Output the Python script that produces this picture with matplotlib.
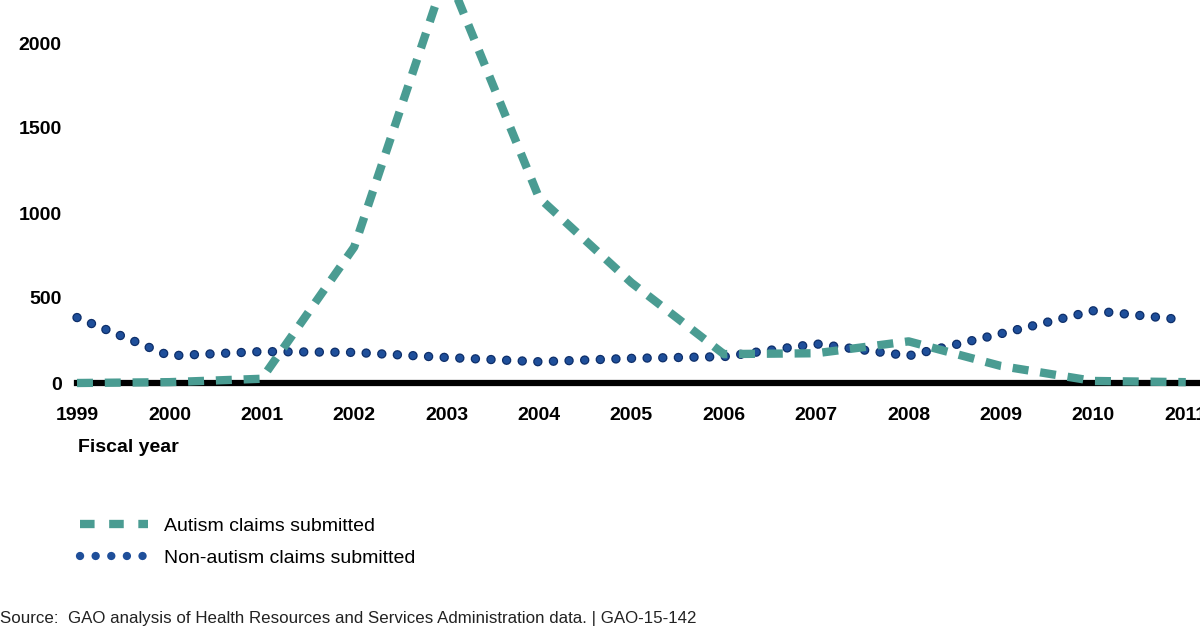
import matplotlib
matplotlib.use("Agg")
import matplotlib.pyplot as plt
from matplotlib.lines import Line2D

plt.rcParams['font.family'] = ['Liberation Sans', 'DejaVu Sans']
plt.rcParams['lines.scale_dashes'] = False

years = [1999, 2000, 2001, 2002, 2003, 2004, 2005, 2006, 2007, 2008, 2009, 2010, 2011]
autism = [0, 5, 25, 800, 2420, 1090, 590, 170, 175, 245, 100, 12, 5]
non_autism = [385, 160, 185, 180, 150, 125, 145, 155, 230, 160, 290, 425, 370]
yticks = [0, 500, 1000, 1500, 2000]
xlabel_text = "Fiscal year"
legend_labels = ["Autism claims submitted", "Non-autism claims submitted"]
source_text = "Source:  GAO analysis of Health Resources and Services Administration data. | GAO-15-142"

teal = "#4a9c92"
blue_fill = "#1f4f9a"
blue_edge = "#0e2f6a"
dot = (0.05, 11.2)
dash = (11.5, 8.5)

fig = plt.figure(figsize=(12, 6.3), dpi=100)
ax = fig.add_axes([77/1200, 247/630, 1 - 77/1200, 383/630])
ax.set_xlim(1999, 1999 + 1123/92.4)
ax.set_ylim(0, 383/0.17)

ax.axhline(0, color="black", lw=4.5, zorder=1, clip_on=False)

# non-autism: dotted with darker rim
ax.plot(years, non_autism, color=blue_edge, lw=6.8, dashes=dot,
        dash_capstyle='round', clip_on=False, zorder=2)
ax.plot(years, non_autism, color=blue_fill, lw=5.0, dashes=dot,
        dash_capstyle='round', clip_on=False, zorder=3)
ax.plot(years, autism, color=teal, lw=6.0, dashes=dash,
        dash_capstyle='butt', clip_on=False, zorder=4)

for s in ax.spines.values():
    s.set_visible(False)
ax.set_yticks(yticks)
ax.set_xticks(years)
ax.set_xticklabels([str(y) for y in years])
ax.tick_params(axis='both', length=0, labelsize=14)
ax.tick_params(axis='y', pad=11)
ax.tick_params(axis='x', pad=17)
for lab in ax.get_xticklabels() + ax.get_yticklabels():
    lab.set_fontweight('bold')

fig.text(78/1200, 1 - 448/630, xlabel_text, fontsize=14, fontweight='bold',
         ha='left', va='center')

# legend handles
h1 = Line2D([], [], color=teal, lw=6.0, dashes=(10.5, 10.5), dash_capstyle='butt')
h2 = Line2D([], [], color=blue_fill, lw=6.0, dashes=dot, dash_capstyle='round')
fig.legend([h1, h2], legend_labels, loc='upper left',
           bbox_to_anchor=(80/1200, 1 - 517/630), frameon=False,
           fontsize=14, handlelength=3.5, handletextpad=0.8,
           labelspacing=0.75, borderpad=0, borderaxespad=0)

fig.text(0, 1 - 618/630, source_text, fontsize=12.2, ha='left', va='center',
         color="#222222")

fig.savefig("out.png", dpi=100)
